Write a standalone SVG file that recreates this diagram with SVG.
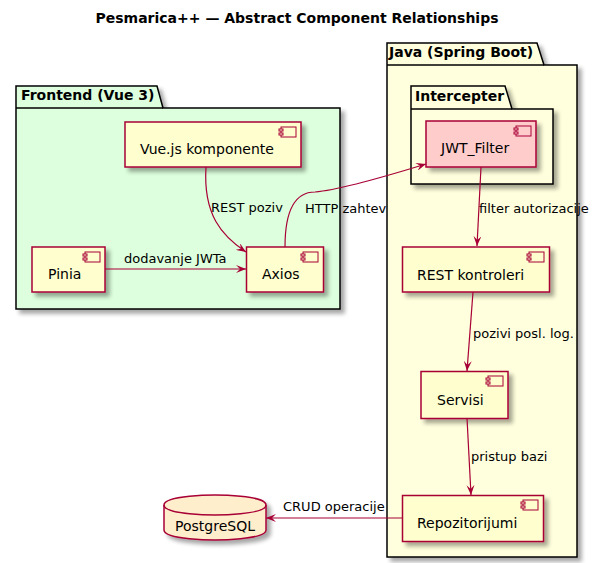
<svg xmlns="http://www.w3.org/2000/svg" width="595" height="563" viewBox="0 0 595 563">
<defs>
<filter id="sh" x="-20%" y="-20%" width="150%" height="150%">
<feGaussianBlur in="SourceAlpha" stdDeviation="2"/>
<feOffset dx="4" dy="4" result="b"/>
<feComponentTransfer><feFuncA type="linear" slope="0.35"/></feComponentTransfer>
<feMerge><feMergeNode/><feMergeNode in="SourceGraphic"/></feMerge>
</filter>
<marker id="ah" viewBox="0 0 10 8" refX="10" refY="4" markerWidth="10" markerHeight="8" markerUnits="userSpaceOnUse" orient="auto">
<path d="M0,0 L10,4 L0,8 L4,4 Z" fill="#A80036"/>
</marker>
</defs>
<style>
text{font-family:"DejaVu Sans","Liberation Sans",sans-serif;fill:#000}
.title{font-size:14px;font-weight:bold}
.pk{stroke:#000;stroke-width:1.5}
.pkl{font-size:14px;font-weight:bold}
.cmp{fill:#FEFECE;stroke:#A80036;stroke-width:1.5}
.ico{fill:#FEFECE;stroke:#A80036;stroke-width:1}
.cl{font-size:14px}
.ed{fill:none;stroke:#A80036;stroke-width:1.2;marker-end:url(#ah)}
.el{font-size:13px}
</style>
<text class="title" x="297" y="23" text-anchor="middle">Pesmarica++ — Abstract Component Relationships</text>

<g id="pkg-frontend">
<path class="pk" filter="url(#sh)" fill="#DDFFDD" d="M16,86 L157,86 L163,108 L340,108 L340,309 L16,309 Z"/>
<path class="pk" fill="none" d="M16,108 L163,108"/>
<text class="pkl" x="21" y="100">Frontend (Vue 3)</text>
</g>

<g id="pkg-java">
<path class="pk" filter="url(#sh)" fill="#FFFFDD" d="M387,43 L537,43 L544,65 L577,65 L577,557 L387,557 Z"/>
<path class="pk" fill="none" d="M387,65 L544,65"/>
<text class="pkl" x="389" y="57">Java (Spring Boot)</text>
</g>

<g id="pkg-intercepter">
<path class="pk" filter="url(#sh)" fill="#FFFFDD" d="M411,86 L505,86 L512,109 L553,109 L553,184 L411,184 Z"/>
<path class="pk" fill="none" d="M411,109 L512,109"/>
<text class="pkl" x="415" y="101">Intercepter</text>
</g>

<g id="vue">
<rect class="cmp" filter="url(#sh)" x="125" y="122" width="176" height="45"/>
<rect class="ico" x="281" y="127" width="15" height="10"/>
<rect class="ico" x="279" y="129" width="4" height="2"/>
<rect class="ico" x="279" y="133" width="4" height="2"/>
<text class="cl" x="140" y="154">Vue.js komponente</text>
</g>

<g id="pinia">
<rect class="cmp" filter="url(#sh)" x="32" y="247" width="73" height="45"/>
<rect class="ico" x="85" y="252" width="15" height="10"/>
<rect class="ico" x="83" y="254" width="4" height="2"/>
<rect class="ico" x="83" y="258" width="4" height="2"/>
<text class="cl" x="48" y="279">Pinia</text>
</g>

<g id="axios">
<rect class="cmp" filter="url(#sh)" x="246.5" y="247" width="77" height="45"/>
<rect class="ico" x="303" y="252" width="15" height="10"/>
<rect class="ico" x="301" y="254" width="4" height="2"/>
<rect class="ico" x="301" y="258" width="4" height="2"/>
<text class="cl" x="262" y="279">Axios</text>
</g>

<g id="jwt">
<rect class="cmp" filter="url(#sh)" style="fill:#FFCCCC" x="426" y="121" width="110" height="46"/>
<rect class="ico" style="fill:#FFCCCC" x="516" y="126" width="15" height="10"/>
<rect class="ico" style="fill:#FFCCCC" x="514" y="128" width="4" height="2"/>
<rect class="ico" style="fill:#FFCCCC" x="514" y="132" width="4" height="2"/>
<text class="cl" x="441" y="153">JWT_Filter</text>
</g>

<g id="rest">
<rect class="cmp" filter="url(#sh)" x="402.5" y="247" width="147" height="45"/>
<rect class="ico" x="529" y="252" width="15" height="10"/>
<rect class="ico" x="527" y="254" width="4" height="2"/>
<rect class="ico" x="527" y="258" width="4" height="2"/>
<text class="cl" x="417" y="280">REST kontroleri</text>
</g>

<g id="servisi">
<rect class="cmp" filter="url(#sh)" x="421" y="371.5" width="87" height="47"/>
<rect class="ico" x="488" y="376" width="15" height="10"/>
<rect class="ico" x="486" y="378" width="4" height="2"/>
<rect class="ico" x="486" y="382" width="4" height="2"/>
<text class="cl" x="437" y="405">Servisi</text>
</g>

<g id="repo">
<rect class="cmp" filter="url(#sh)" x="402.5" y="495.5" width="141" height="46"/>
<rect class="ico" x="523" y="500" width="15" height="10"/>
<rect class="ico" x="521" y="502" width="4" height="2"/>
<rect class="ico" x="521" y="506" width="4" height="2"/>
<text class="cl" x="417" y="528">Repozitorijumi</text>
</g>

<g id="postgres">
<path filter="url(#sh)" fill="#FFEECC" stroke="#A80036" stroke-width="1.5" d="M164,505 C164,495 215,495 215,495 C215,495 266,495 266,505 L266,530 C266,540 215,540 215,540 C215,540 164,540 164,530 Z"/>
<path fill="none" stroke="#A80036" stroke-width="1.5" d="M164,505 C164,515 215,515 215,515 C215,515 266,515 266,505"/>
<text class="cl" x="175" y="531">PostgreSQL</text>
</g>

<g id="connectors">
<path class="ed" d="M206,167 C203,215 222,236 246,252"/>
<text class="el" x="211" y="212">REST poziv</text>
<path class="ed" d="M105,269 L246,269"/>
<text class="el" x="124" y="263">dodavanje JWTa</text>
<path class="ed" d="M285,247 C285,215 292,192 315,192 C340,190 400,172 426,164"/>
<text class="el" x="305" y="213">HTTP zahtev</text>
<path class="ed" d="M481,167 L477,246"/>
<text class="el" x="479" y="213">filter autorizacije</text>
<path class="ed" d="M473,292 L467,371"/>
<text class="el" x="473" y="338">pozivi posl. log.</text>
<path class="ed" d="M467,418 L471,495"/>
<text class="el" x="471" y="461">pristup bazi</text>
<path class="ed" d="M402,518 L266,518"/>
<text class="el" x="283" y="511">CRUD operacije</text>
</g>
</svg>
